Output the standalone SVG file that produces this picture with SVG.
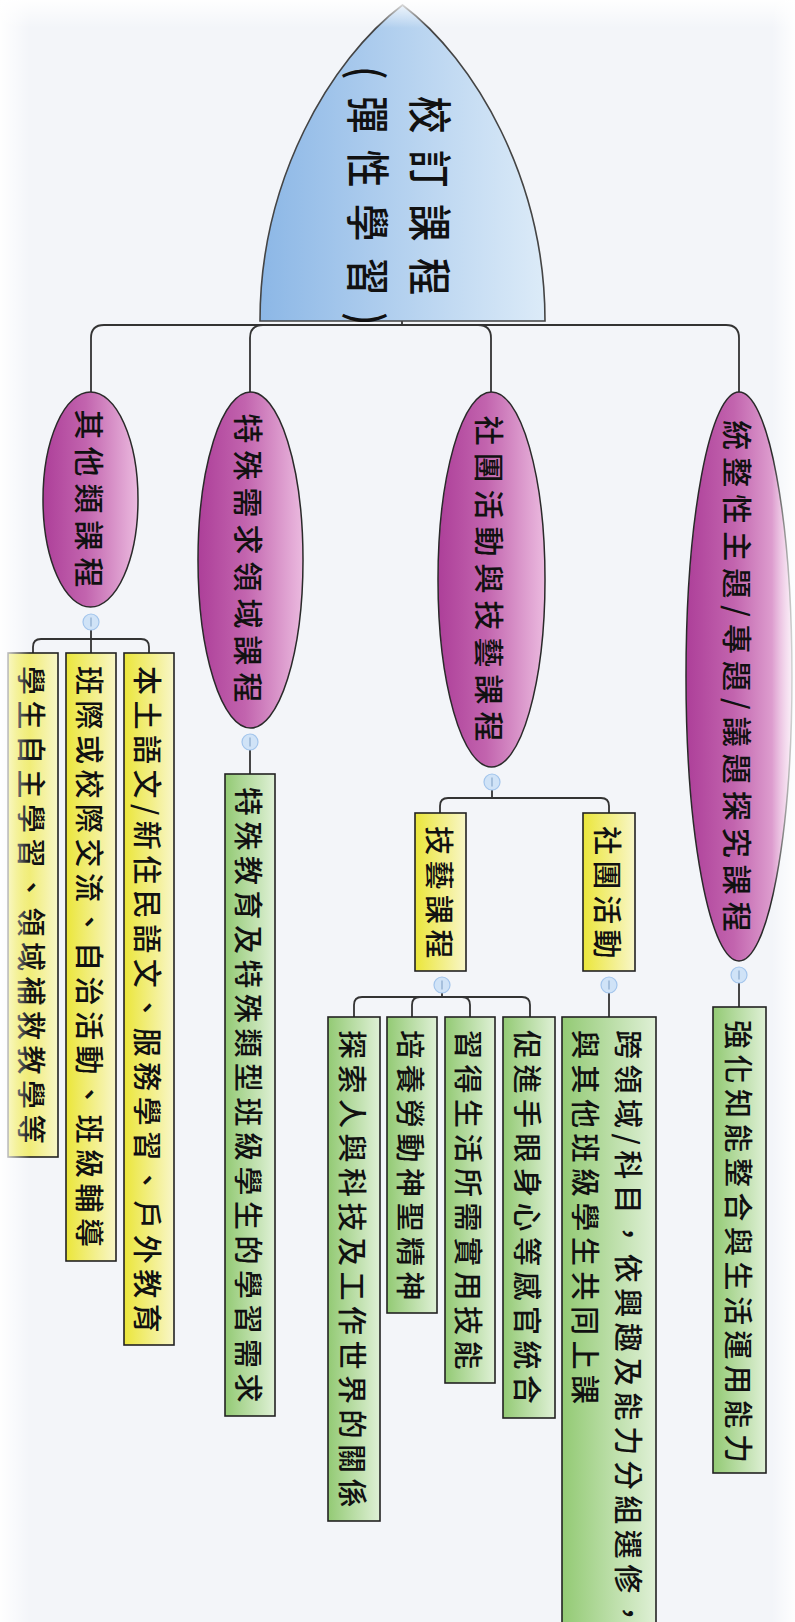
<svg xmlns="http://www.w3.org/2000/svg" width="795" height="1622" viewBox="0 0 795 1622">
<defs>
  <linearGradient id="gRoot" x1="0" y1="0" x2="1" y2="0"><stop offset="0" stop-color="#8cb7e6"/><stop offset="1" stop-color="#dcebf8"/></linearGradient>
  <linearGradient id="gPurple" x1="0" y1="0" x2="1" y2="0"><stop offset="0" stop-color="#ad3f99"/><stop offset="0.45" stop-color="#c264ae"/><stop offset="1" stop-color="#ebbadf"/></linearGradient>
  <linearGradient id="gYellow" x1="0" y1="0" x2="1" y2="0"><stop offset="0" stop-color="#ebe63a"/><stop offset="1" stop-color="#f8f6c8"/></linearGradient>
  <linearGradient id="gGreen" x1="0" y1="0" x2="1" y2="0"><stop offset="0" stop-color="#93ca74"/><stop offset="1" stop-color="#dff0d6"/></linearGradient>
  <linearGradient id="fadeL" x1="0" y1="0" x2="1" y2="0"><stop offset="0" stop-color="#ffffff" stop-opacity="0.95"/><stop offset="1" stop-color="#ffffff" stop-opacity="0"/></linearGradient>
  <linearGradient id="fadeR" x1="1" y1="0" x2="0" y2="0"><stop offset="0" stop-color="#ffffff" stop-opacity="0.9"/><stop offset="1" stop-color="#ffffff" stop-opacity="0"/></linearGradient>
  <linearGradient id="fadeT" x1="0" y1="0" x2="0" y2="1"><stop offset="0" stop-color="#ffffff" stop-opacity="0.95"/><stop offset="1" stop-color="#ffffff" stop-opacity="0"/></linearGradient>
  <g id="minus">
    <circle cx="0" cy="0" r="8" fill="#d0e3f7" stroke="#a3c5ec" stroke-width="1.2"/>
    <line x1="0" y1="-4.5" x2="0" y2="4.5" stroke="#8aa8cc" stroke-width="1.2"/>
  </g>
</defs>
<style>
  .conn{fill:none;stroke:#333;stroke-width:1.8}
  .ell{fill:url(#gPurple);stroke:#2a2a2a;stroke-width:1.5}
  .yb{fill:url(#gYellow);stroke:#222;stroke-width:1.6}
  .gb{fill:url(#gGreen);stroke:#222;stroke-width:1.6}
  text{font-family:'Noto Sans CJK TC','Noto Sans CJK SC',sans-serif;font-weight:500;fill:#111;dominant-baseline:central}
  .t0{font-size:44px;letter-spacing:19.5px;text-anchor:middle}
  .t1{font-size:30px;letter-spacing:7px;text-anchor:middle}
  .t2{font-size:29px;letter-spacing:5.5px;text-anchor:start}
</style>
<rect x="0" y="0" width="795" height="1622" fill="#f3f5f9"/>

<g id="connectors">
  <path class="conn" d="M402,321 V325"/>
  <path class="conn" d="M91,392 V338 Q91,325 104,325 H726 Q739,325 739,338 V392"/>
  <path class="conn" d="M250,392 V338 Q250,325 263,325"/>
  <path class="conn" d="M491,392 V338 Q491,325 478,325"/>
  <path class="conn" d="M91,630 V653"/>
  <path class="conn" d="M33,653 V647 Q33,639 41,639 H141 Q149,639 149,647 V653"/>
  <path class="conn" d="M250,750 V774"/>
  <path class="conn" d="M492,790 V798"/>
  <path class="conn" d="M440,813 V806 Q440,798 448,798 H601 Q609,798 609,806 V813"/>
  <path class="conn" d="M442,993 V997"/>
  <path class="conn" d="M354,1017 V1005 Q354,997 362,997 H522 Q530,997 530,1005 V1017"/>
  <path class="conn" d="M412,1017 V1005 Q412,997 420,997"/>
  <path class="conn" d="M470,1017 V1005 Q470,997 462,997"/>
  <path class="conn" d="M609,993 V1017"/>
  <path class="conn" d="M739,983 V1007"/>
</g>

<g id="root">
  <path d="M260,321 C260,180 330,60 402.5,5 C475,60 545,180 545,321 Z" fill="url(#gRoot)" stroke="#444" stroke-width="1.6"/>
  <text class="t0" transform="translate(432,204) rotate(90) scale(0.85,1)">校訂課程</text>
  <text class="t0" transform="translate(370,204) rotate(90) scale(0.85,1)">(彈性學習)</text>
</g>

<g id="n-other">
  <ellipse class="ell" cx="90.5" cy="499.5" rx="47.5" ry="107.5"/>
  <text class="t1" transform="translate(91,502) rotate(90)">其他類課程</text>
  <use href="#minus" x="91" y="622"/>
</g>
<g id="n-special">
  <ellipse class="ell" cx="250.5" cy="560" rx="52.5" ry="168"/>
  <text class="t1" transform="translate(250,561.5) rotate(90)">特殊需求領域課程</text>
  <use href="#minus" x="250" y="742"/>
</g>
<g id="n-club">
  <ellipse class="ell" cx="491.5" cy="579.5" rx="53.5" ry="187.5"/>
  <text class="t1" transform="translate(491,582) rotate(90)">社團活動與技藝課程</text>
  <use href="#minus" x="492" y="782"/>
</g>
<g id="n-integrated">
  <ellipse class="ell" cx="739" cy="676.5" rx="53" ry="284.5"/>
  <text class="t1" transform="translate(739,679.5) rotate(90)">統整性主題/專題/議題探究課程</text>
  <use href="#minus" x="739" y="975"/>
</g>

<g id="n-self">
  <rect class="yb" x="8" y="653" width="50" height="504"/>
  <text class="t2" transform="translate(33,666) rotate(90)">學生自主學習、領域補救教學等</text>
</g>
<g id="n-exchange">
  <rect class="yb" x="66" y="653" width="50" height="608"/>
  <text class="t2" transform="translate(91,666) rotate(90)">班際或校際交流、自治活動、班級輔導</text>
</g>
<g id="n-local">
  <rect class="yb" x="124" y="653" width="50" height="692"/>
  <text class="t2" transform="translate(149,666) rotate(90)">本土語文/新住民語文、服務學習、戶外教育</text>
</g>
<g id="n-specialedu">
  <rect class="gb" x="225" y="774" width="50" height="642"/>
  <text class="t2" transform="translate(250,787) rotate(90)">特殊教育及特殊類型班級學生的學習需求</text>
</g>
<g id="n-skill">
  <rect class="yb" x="415" y="813" width="51" height="158"/>
  <text class="t2" transform="translate(440.5,826) rotate(90)">技藝課程</text>
  <use href="#minus" x="442" y="985"/>
</g>
<g id="n-clubact">
  <rect class="yb" x="583" y="813" width="52" height="158"/>
  <text class="t2" transform="translate(609,826) rotate(90)">社團活動</text>
  <use href="#minus" x="609" y="985"/>
</g>
<g id="n-explore">
  <rect class="gb" x="328" y="1017" width="52" height="504"/>
  <text class="t2" transform="translate(354,1030) rotate(90)">探索人與科技及工作世界的關係</text>
</g>
<g id="n-labor">
  <rect class="gb" x="387" y="1017" width="50" height="296"/>
  <text class="t2" transform="translate(412,1030) rotate(90)">培養勞動神聖精神</text>
</g>
<g id="n-life">
  <rect class="gb" x="445" y="1017" width="50" height="366"/>
  <text class="t2" transform="translate(470,1030) rotate(90)">習得生活所需實用技能</text>
</g>
<g id="n-sense">
  <rect class="gb" x="503" y="1017" width="52" height="401"/>
  <text class="t2" transform="translate(529,1030) rotate(90)">促進手眼身心等感官統合</text>
</g>
<g id="n-cross">
  <rect class="gb" x="562" y="1017" width="94" height="620"/>
  <text class="t2" transform="translate(630,1030) rotate(90)">跨領域/科目，依興趣及能力分組選修，</text>
  <text class="t2" transform="translate(587,1030) rotate(90)">與其他班級學生共同上課</text>
</g>
<g id="n-strengthen">
  <rect class="gb" x="713" y="1007" width="53" height="466"/>
  <text class="t2" transform="translate(739.5,1020) rotate(90)">強化知能整合與生活運用能力</text>
</g>

<rect x="0" y="0" width="30" height="1622" fill="url(#fadeL)"/>
<rect x="0" y="0" width="795" height="28" fill="url(#fadeT)"/>
<rect x="772" y="0" width="23" height="1622" fill="url(#fadeR)"/>
</svg>
